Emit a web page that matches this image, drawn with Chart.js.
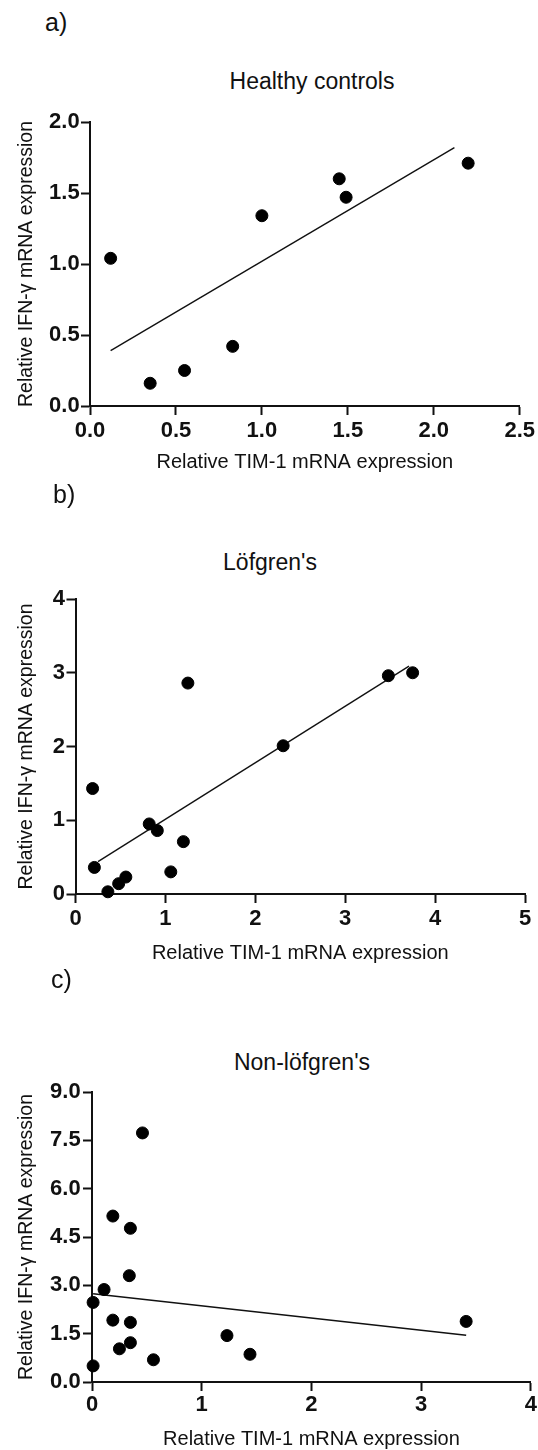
<!DOCTYPE html>
<html>
<head>
<meta charset="utf-8">
<script src="https://cdn.jsdelivr.net/npm/chart.js@4/dist/chart.umd.min.js"></script>
<style>
    html, body { margin: 0; padding: 0; background: #fff; }
    body { width: 538px; height: 1450px; position: relative; overflow: hidden; font-family: "Liberation Sans", Arial, sans-serif; color: #111; }
    .panel { position: absolute; left: 0; width: 538px; }
    .lbl { position: absolute; font-size: 25px; line-height: 1; transform: translateY(-50%); }
    .ttl { position: absolute; font-size: 23px; line-height: 1; transform: translate(-50%, -50%); white-space: nowrap; }
</style>
</head>
<body>
<div class="lbl" style="left:45px; top:22px;">a)</div>
<div class="ttl" style="left:312px; top:81px;">Healthy controls</div>
<div class="panel" style="top:100px; height:380px;"><canvas id="chartA"></canvas></div>

<div class="lbl" style="left:53px; top:494px;">b)</div>
<div class="ttl" style="left:270px; top:562px;">Löfgren's</div>
<div class="panel" style="top:580px; height:390px;"><canvas id="chartB"></canvas></div>

<div class="lbl" style="left:51px; top:979px;">c)</div>
<div class="ttl" style="left:302px; top:1062px;">Non-löfgren's</div>
<div class="panel" style="top:1070px; height:380px;"><canvas id="chartC"></canvas></div>

<script>
// Healthy controls
const tim1Sanos = [0.12, 0.35, 0.55, 0.83, 1.00, 1.45, 1.49, 2.20];
const ifngSanos = [1.04, 0.16, 0.25, 0.42, 1.34, 1.60, 1.47, 1.71];
const rectaSanosX = [0.12, 2.12];
const rectaSanosY = [0.39, 1.82];
const xTicksA = ['0.0', '0.5', '1.0', '1.5', '2.0', '2.5'];
const yTicksA = ['0.0', '0.5', '1.0', '1.5', '2.0'];

// Löfgren's
const tim1Lofgren = [0.19, 0.21, 0.36, 0.48, 0.56, 0.82, 0.91, 1.06, 1.20, 1.25, 2.31, 3.48, 3.75];
const ifngLofgren = [1.43, 0.36, 0.03, 0.14, 0.23, 0.95, 0.86, 0.30, 0.71, 2.86, 2.01, 2.96, 3.00];
const rectaLofgrenX = [0.25, 3.71];
const rectaLofgrenY = [0.44, 3.09];
const xTicksB = ['0', '1', '2', '3', '4', '5'];
const yTicksB = ['0', '1', '2', '3', '4'];

// Non-löfgren's
const tim1NoLofgren = [0.46, 0.19, 0.35, 0.34, 0.11, 0.01, 0.19, 0.35, 0.25, 0.35, 0.56, 0.01, 1.23, 1.44, 3.41];
const ifngNoLofgren = [7.73, 5.15, 4.77, 3.30, 2.87, 2.47, 1.92, 1.85, 1.03, 1.22, 0.69, 0.50, 1.44, 0.86, 1.88];
const rectaNoLofgrenX = [0.01, 3.41];
const rectaNoLofgrenY = [2.74, 1.45];
const xTicksC = ['0', '1', '2', '3', '4'];
const yTicksC = ['0.0', '1.5', '3.0', '4.5', '6.0', '7.5', '9.0'];

const tituloX = 'Relative TIM-1 mRNA expression';
const tituloY = 'Relative IFN-\u03b3 mRNA expression';

function puntos(xs, ys) {
    return xs.map((x, i) => ({ x: x, y: ys[i] }));
}

function crearGrafico(id, cfg) {
    const ejeComun = {
        grid: { display: true, drawOnChartArea: false, drawTicks: true, tickLength: 9, tickWidth: 2, tickColor: '#111' },
        border: { display: true, color: '#111', width: 2 }
    };
    return new Chart(document.getElementById(id), {
        type: 'scatter',
        data: {
            datasets: [{
                data: puntos(cfg.xs, cfg.ys),
                backgroundColor: '#000',
                borderColor: '#000',
                pointRadius: 6,
                pointHoverRadius: 6,
                clip: false
            }, {
                type: 'line',
                data: puntos(cfg.rx, cfg.ry),
                borderColor: '#111',
                borderWidth: 1.4,
                pointRadius: 0,
                fill: false,
                clip: false
            }]
        },
        options: {
            responsive: true,
            maintainAspectRatio: false,
            animation: false,
            layout: { padding: { top: cfg.padTop, right: cfg.padRight, bottom: 0, left: 0 } },
            plugins: { legend: { display: false }, tooltip: { enabled: false } },
            scales: {
                x: {
                    ...ejeComun,
                    type: 'linear',
                    min: cfg.xMin, max: cfg.xMax,
                    afterBuildTicks: (s) => { s.ticks = cfg.xTicks.map(t => ({ value: parseFloat(t) })); },
                    afterFit: (s) => { s.height = cfg.xHeight; },
                    ticks: {
                        autoSkip: false, maxRotation: 0, padding: cfg.xPad, color: '#111',
                        font: { family: 'Liberation Sans', size: 22, weight: 'bold' },
                        callback: (v, i) => cfg.xTicks[i]
                    },
                    title: {
                        display: true, text: tituloX, color: '#111',
                        font: { family: 'Liberation Sans', size: 20, lineHeight: 1 },
                        padding: { top: 0, bottom: cfg.xTitlePad }
                    }
                },
                y: {
                    ...ejeComun,
                    type: 'linear',
                    min: cfg.yMin, max: cfg.yMax,
                    afterBuildTicks: (s) => { s.ticks = cfg.yTicks.map(t => ({ value: parseFloat(t) })); },
                    afterFit: (s) => { s.width = cfg.yWidth; },
                    ticks: {
                        autoSkip: false, padding: cfg.yPad, color: '#111',
                        font: { family: 'Liberation Sans', size: 22, weight: 'bold' },
                        callback: (v, i) => cfg.yTicks[i]
                    },
                    title: {
                        display: true, text: tituloY, color: '#111',
                        font: { family: 'Liberation Sans', size: 19.5, lineHeight: 1 },
                        padding: { top: 17, bottom: 0 }
                    }
                }
            }
        }
    });
}

crearGrafico('chartA', {
    xs: tim1Sanos, ys: ifngSanos, rx: rectaSanosX, ry: rectaSanosY,
    xMin: 0, xMax: 2.5, yMin: 0, yMax: 2, xTicks: xTicksA, yTicks: yTicksA,
    padTop: 22, padRight: 16.5, yWidth: 90, xHeight: 74, xTitlePad: 8, xPad: 3, yPad: 1.3
});

crearGrafico('chartB', {
    xs: tim1Lofgren, ys: ifngLofgren, rx: rectaLofgrenX, ry: rectaLofgrenY,
    xMin: 0, xMax: 5, yMin: 0, yMax: 4, xTicks: xTicksB, yTicks: yTicksB,
    padTop: 19, padRight: 13, yWidth: 75.5, xHeight: 76, xTitlePad: 7, xPad: 3, yPad: 1.5
});

crearGrafico('chartC', {
    xs: tim1NoLofgren, ys: ifngNoLofgren, rx: rectaNoLofgrenX, ry: rectaNoLofgrenY,
    xMin: 0, xMax: 4, yMin: 0, yMax: 9, xTicks: xTicksC, yTicks: yTicksC,
    padTop: 22, padRight: 6, yWidth: 92, xHeight: 68, xTitlePad: 1, xPad: 1, yPad: 2.3
});
</script>
</body>
</html>
